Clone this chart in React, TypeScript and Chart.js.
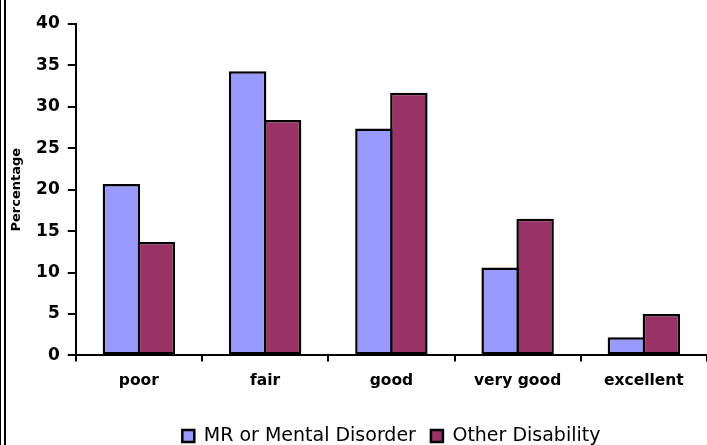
import React, { useEffect, useRef } from 'react';
import { Chart, registerables } from 'chart.js';

Chart.register(...registerables);

const categories = ['poor', 'fair', 'good', 'very good', 'excellent'];
const mrValues = [20.7, 34.3, 27.4, 10.6, 2.2];
const otherValues = [13.7, 28.4, 31.7, 16.5, 5.0];
const seriesNames = ['MR or Mental Disorder', 'Other Disability'];
const yTitle = 'Percentage';
const yMin = 0;
const yMax = 40;
const yStep = 5;

const FONT = "'DejaVu Sans', sans-serif";
const LEGEND_SHIFT = 11.5;

const legendPlace = {
  id: 'legendPlace',
  afterLayout(chart: any) {
    const l = chart.legend;
    const ca = chart.chartArea;
    if (!l || !ca) return;
    l.left = ca.left;
    l.right = ca.right;
    l.width = ca.right - ca.left;
    l.top += LEGEND_SHIFT;
    l.bottom += LEGEND_SHIFT;
  },
};

const barStyle = {
  borderColor: '#000000',
  borderWidth: 2.5,
  borderSkipped: false,
  categoryPercentage: 0.554,
  barPercentage: 1.071,
};

export default function App() {
  const ref = useRef<HTMLCanvasElement | null>(null);

  useEffect(() => {
    if (!ref.current) return;
    const chart = new Chart(ref.current, {
      type: 'bar',
      data: {
        labels: categories,
        datasets: [
          {
            label: seriesNames[0],
            data: mrValues,
            backgroundColor: '#9999FF',
            ...barStyle,
          },
          {
            label: seriesNames[1],
            data: otherValues,
            backgroundColor: '#993366',
            ...barStyle,
          },
        ],
      },
      options: {
        animation: false,
        responsive: false,
        maintainAspectRatio: false,
        layout: { padding: { left: 9, right: -2.75, top: 24, bottom: 1 } },
        plugins: {
          legend: {
            position: 'bottom',
            labels: {
              font: { family: FONT, size: 19 },
              color: '#000',
              boxWidth: 12,
              boxHeight: 12,
              padding: 15,
            },
          },
          tooltip: { enabled: false },
        },
        scales: {
          x: {
            grid: {
              display: true,
              drawOnChartArea: false,
              drawTicks: true,
              tickLength: 6,
              color: '#000',
              lineWidth: 2,
              offset: true,
            },
            border: { display: true, color: '#000', width: 2 },
            ticks: {
              font: { family: FONT, size: 15.5, weight: 'bold' },
              color: '#000',
              padding: 10,
              maxRotation: 0,
            },
          },
          y: {
            min: yMin,
            max: yMax,
            ticks: {
              stepSize: yStep,
              font: { family: FONT, size: 17, weight: 'bold' },
              color: '#000',
              padding: 8,
            },
            grid: {
              drawOnChartArea: false,
              tickLength: 8,
              color: '#000',
              lineWidth: 2,
            },
            border: { display: true, color: '#000', width: 2 },
            title: {
              display: true,
              text: yTitle,
              font: { family: FONT, size: 13, weight: 'bold' },
              color: '#000',
              padding: { top: 0, bottom: 3.5 },
            },
          },
        },
      },
      plugins: [legendPlace],
    } as any);
    return () => chart.destroy();
  }, []);

  return (
    <div
      style={{
        position: 'fixed',
        left: 0,
        top: 0,
        width: 707,
        height: 445,
        overflow: 'hidden',
        background: '#fff',
      }}
    >
      <canvas ref={ref} width={707} height={445} style={{ display: 'block', width: 707, height: 445 }} />
      <div style={{ position: 'absolute', left: 0, top: 0, width: 1, height: 445, background: '#000' }} />
      <div style={{ position: 'absolute', left: 4, top: 0, width: 2, height: 445, background: '#000' }} />
    </div>
  );
}
